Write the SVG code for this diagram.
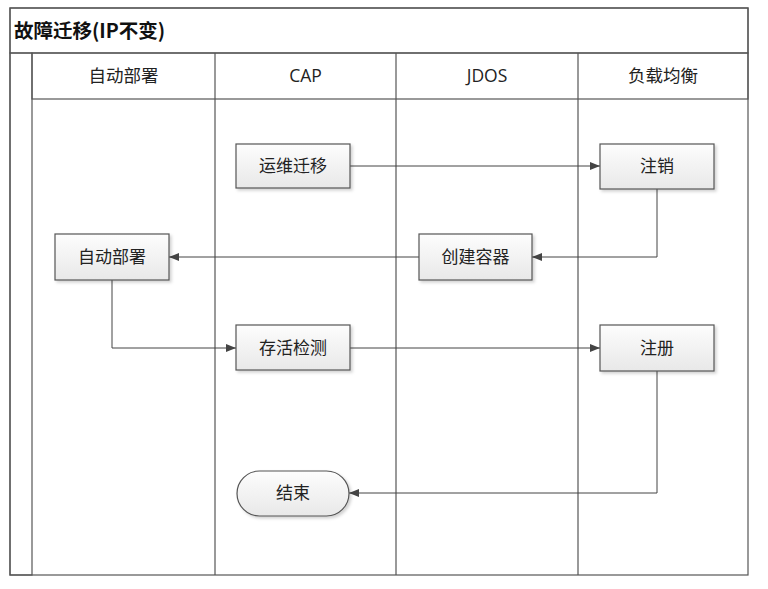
<svg xmlns="http://www.w3.org/2000/svg" width="768" height="589" viewBox="0 0 768 589">
<style>
.t{font-family:"Open Sans","Noto Sans CJK SC",sans-serif;font-size:17px;fill:#222;text-anchor:middle;}
.h{font-size:17.5px;}
.title{font-family:"Noto Sans CJK SC",sans-serif;font-size:19.5px;font-weight:bold;fill:#111;}
.ln{stroke:#555;stroke-width:1.2;fill:none;}
.box{fill:url(#ng);stroke:#555;stroke-width:1.2;filter:url(#sh);}
.c{stroke:#444;stroke-width:1;fill:none;marker-end:url(#ah);}
</style>
<defs>
<linearGradient id="ng" x1="0" y1="0" x2="0" y2="1"><stop offset="0" stop-color="#fdfdfd"/><stop offset="1" stop-color="#e8e8e8"/></linearGradient>
<linearGradient id="hg" x1="0" y1="0" x2="0" y2="1"><stop offset="0" stop-color="#fafafa"/><stop offset="1" stop-color="#eeeeee"/></linearGradient>
<linearGradient id="sg" x1="0" y1="0" x2="1" y2="0"><stop offset="0" stop-color="#f2f2f2"/><stop offset="1" stop-color="#e6e6e6"/></linearGradient>
<filter id="sh" x="-10%" y="-10%" width="125%" height="140%"><feDropShadow dx="2" dy="2" stdDeviation="1.5" flood-color="#000" flood-opacity="0.18"/></filter>
<marker id="ah" viewBox="0 0 10 8" refX="10" refY="4" markerWidth="10" markerHeight="8" markerUnits="userSpaceOnUse" orient="auto"><path d="M0,0 L10,4 L0,8 Z" fill="#444"/></marker>
</defs>
<rect width="768" height="589" fill="#fff"/>
<g id="pool">
<rect x="10" y="8" width="738" height="567" fill="#fff" class="ln"/>
<rect x="10" y="8" width="738" height="45" fill="url(#hg)" class="ln"/>
<text class="title" x="14" y="37.5">故障迁移(IP不变)</text>
<rect x="10" y="53" width="22" height="522" fill="url(#sg)" class="ln"/>
<rect x="32" y="53" width="716" height="46" fill="url(#hg)" class="ln"/>
<line class="ln" x1="215" y1="53" x2="215" y2="575"/>
<line class="ln" x1="396" y1="53" x2="396" y2="575"/>
<line class="ln" x1="578" y1="53" x2="578" y2="575"/>
<text class="t h" x="123.5" y="82">自动部署</text>
<text class="t h" x="305.5" y="82">CAP</text>
<text class="t h" x="487" y="82">JDOS</text>
<text class="t h" x="663" y="82">负载均衡</text>
</g>
<g id="connectors">
<path class="c" d="M350,166 H600"/>
<path class="c" d="M657,189 V257 H532"/>
<path class="c" d="M419,257 H169"/>
<path class="c" d="M112,280 V348 H236"/>
<path class="c" d="M350,348 H600"/>
<path class="c" d="M657,371 V493 H349"/>
</g>
<g id="n1"><rect class="box" x="236" y="144" width="114" height="44"/><text class="t" x="293" y="172">运维迁移</text></g>
<g id="n2"><rect class="box" x="600" y="144" width="114" height="45"/><text class="t" x="657" y="172">注销</text></g>
<g id="n3"><rect class="box" x="419" y="234" width="113" height="46"/><text class="t" x="475.5" y="263">创建容器</text></g>
<g id="n4"><rect class="box" x="55" y="234" width="114" height="46"/><text class="t" x="112" y="263">自动部署</text></g>
<g id="n5"><rect class="box" x="236" y="325" width="114" height="45"/><text class="t" x="293" y="354">存活检测</text></g>
<g id="n6"><rect class="box" x="600" y="325" width="114" height="46"/><text class="t" x="657" y="354">注册</text></g>
<g id="n7"><rect class="box" x="237" y="471" width="112" height="45" rx="22.5"/><text class="t" x="293" y="499">结束</text></g>
</svg>
